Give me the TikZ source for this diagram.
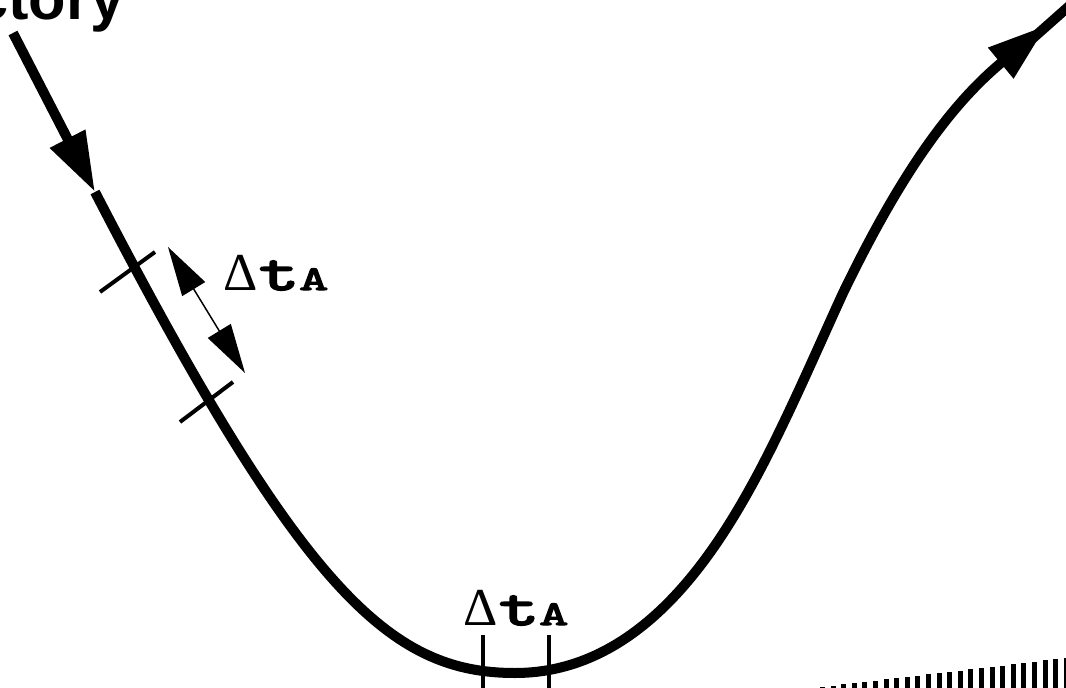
\documentclass[tikz,border=0pt]{standalone}
\usepackage{graphicx}
\usepackage{fontspec}
\setsansfont{Liberation Sans}
\newfontfamily\deltafont{Liberation Serif}
\newfontfamily\ttbold{lmmono10-regular.otf}[FakeBold=3]
\usetikzlibrary{arrows.meta}

\newcommand{\dtlabel}{{\deltafont\fontsize{40}{40}\selectfont Δ}\kern1pt\scalebox{1.6}[1.1]{\ttbold\fontsize{36}{36}\selectfont t}\scalebox{1.6}[1.0]{\ttbold\fontsize{26}{26}\selectfont A}}

\begin{document}
\begin{tikzpicture}[
  x=0.75pt, y=-0.75pt,
  traj/.style={line width=7.5pt, line join=round},
  bigtip/.style={-{Triangle[length=45pt, width=28pt]}},
  tick/.style={line width=3pt},
  span/.style={line width=1.1pt, {Triangle[length=37pt, width=20pt]}-{Triangle[length=37pt, width=20pt]}},
  dtext/.style={inner sep=0pt, anchor=base west},
  bar/.style={fill=black},
]
\useasboundingbox (0,0) rectangle (1066,688);
\clip (0,0) rectangle (1066,688);

% title, cut off at the left edge
\node[inner sep=0pt, anchor=base west, font=\sffamily\bfseries\fontsize{46}{46}\selectfont] (title) at (-26,20) {ctory};

% incoming leg with its arrow
\coordinate (start) at (13,33);
\coordinate (entry) at (95,192);
\draw[traj, bigtip] (start) -- (entry);

% trajectory
\coordinate (low) at (515,673);
\coordinate (rise) at (760,470);
\coordinate (upper) at (843,293);
\coordinate (exit) at (1047,25);
\draw[traj, bigtip] (entry) .. controls (302,592) and (390,673) .. (low)
  .. controls (640,673) and (715,555) .. (rise)
  .. controls (790,413) and (820,343) .. (upper)
  .. controls (900,175) and (950,105) .. (exit);
\coordinate (back) at (1032,39);
\coordinate (far) at (1085,-8);
\draw[traj] (back) -- (far);

% ticks on the steep part
\draw[tick] (100,292) -- (155,252);
\draw[tick] (180,422) -- (233,382);

% span arrow
\coordinate (spanA) at (168,247);
\coordinate (spanB) at (245,373);
\draw[span] (spanA) -- (spanB);
\node[dtext] (dt1) at (223,290) {\dtlabel};

% ticks at the bottom
\draw[tick] (483,635) -- (483,700);
\draw[tick] (549,635) -- (549,700);
\node[dtext] (dt2) at (463,625) {\dtlabel};

% hatched wedge, bottom right
\foreach \i in {0,...,23} {
  \pgfmathsetmacro{\xx}{820+\i*10.6}
  \pgfmathsetmacro{\yy}{687-(\xx-820)*29/243}
  \fill[bar] (\xx,\yy) rectangle (\xx+5,700);
}

\end{tikzpicture}
\end{document}
